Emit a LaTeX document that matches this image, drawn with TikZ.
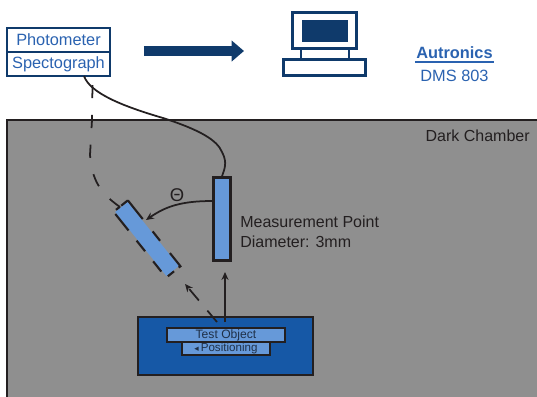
\documentclass[tikz,border=0pt]{standalone}
\usepackage{fontspec}
\setmainfont{Liberation Sans}
\newfontfamily\symbolfont{DejaVu Sans}
\usetikzlibrary{arrows.meta, positioning}
\definecolor{navyblue}{HTML}{0F3A6B}
\definecolor{labelblue}{HTML}{2A62B0}
\definecolor{lightblue}{HTML}{6699D9}
\definecolor{stageblue}{HTML}{1658A6}
\definecolor{chambergray}{HTML}{8F8F8F}
\definecolor{inkdark}{HTML}{231F20}
\begin{document}
\begin{tikzpicture}[
    x=0.2mm, y=-0.2mm,
    devicebox/.style={rectangle, minimum width=2.06cm, minimum height=0.48cm, inner sep=0pt, draw=navyblue, line width=1.2pt, text=labelblue, font=\fontsize{9.3}{11}\selectfont},
    screenpart/.style={rectangle, inner sep=0pt, draw=navyblue, line width=1.2pt, fill=white},
    stagebox/.style={rectangle, inner sep=0pt, draw=inkdark, line width=1pt, fill=lightblue, text=inkdark!70!stageblue},
    sensor/.style={rectangle, inner sep=0pt, draw=inkdark, line width=1.3pt, fill=lightblue},
    caption/.style={inner sep=0pt, text=inkdark, font=\fontsize{9.1}{11}\selectfont},
    beam/.style={draw=inkdark, line width=1pt},
    tip/.style={-{Stealth[length=4.5pt,width=4pt]}}
]
\useasboundingbox (0,0) rectangle (537,397);

% Nodes
\node (photometer) [devicebox] at (58.5,40) {Photometer};
\node (spectograph) [devicebox] at (58.5,64) {Spectograph};

\node (neck) [screenpart, minimum width=0.96cm, minimum height=0.2cm] at (325,54) {};
\node (monitor) [screenpart, minimum width=1.28cm, minimum height=0.72cm] at (324.5,30.5) {};
\node (screen) [rectangle, inner sep=0pt, fill=navyblue, minimum width=0.92cm, minimum height=0.44cm] at (325,31) {};
\node (keyboard) [screenpart, minimum width=1.64cm, minimum height=0.32cm] at (324.5,67.5) {};

\node (autronics) [inner sep=0pt, text=labelblue, font=\fontsize{9.3}{11}\selectfont\bfseries] at (454.5,53) {Autronics};
\node (dms) [inner sep=0pt, text=labelblue, font=\fontsize{9.3}{11}\selectfont] at (454.5,76) {DMS 803};

\node (chamber) [rectangle, anchor=north west, inner sep=0pt, fill=chambergray, minimum width=10.8cm, minimum height=5.6cm] at (7,120) {};
\node (darklabel) [caption, anchor=east] at (530,136) {Dark Chamber};

\node (object) [rectangle, inner sep=0pt, draw=inkdark, line width=1.2pt, fill=stageblue, minimum width=3.5cm, minimum height=1.16cm] at (225.5,346) {};
\node (test) [stagebox, minimum width=2.36cm, minimum height=0.28cm, font=\fontsize{6.9}{8}\selectfont] at (226,335) {\raisebox{-1.2pt}{Test Object}};
\node (positioning) [stagebox, minimum width=1.76cm, minimum height=0.26cm, font=\fontsize{6.6}{8}\selectfont] at (226,348.5) {{\symbolfont\fontsize{5}{6}\selectfont ◂}\,Positioning};

\node (detector) [sensor, minimum width=0.34cm, minimum height=1.66cm] at (222,219) {};
\node (tilted) [sensor, draw=none, minimum width=1.64cm, minimum height=0.32cm, rotate=-51.4] at (147,239) {};
\draw [inkdark, line width=1.2pt, dash pattern=on 13.6pt off 9pt on 6.8pt off 9pt on 10.8pt off 3.4pt on 4.5pt off 5.7pt on 7.4pt off 7.4pt on 7.7pt off 7.4pt on 12pt off 3.4pt on 2.8pt off 1pt] (tilted.north west) -- (tilted.north east) -- (tilted.south east) -- (tilted.south west) -- cycle;

\node (point) [caption, anchor=north west, align=left, font=\fontsize{9.1}{11.3}\selectfont] at (240,215.5) {Measurement Point\\Diameter: 3mm};
\node (theta) [inner sep=0pt, text=inkdark, font=\fontsize{10.5}{12}\selectfont] at (177,195) {Θ};

% Underline
\coordinate (ruleleft) at (415,62);
\coordinate (ruleright) at (494,62);
\draw [labelblue, line width=1.1pt] (ruleleft) -- (ruleright);

% Chamber edge
\draw [inkdark, line width=1.1pt] (chamber.south west) -- (chamber.north west) -- (chamber.north east);

% Data arrow
\coordinate (datastart) at (144,51);
\coordinate (dataend) at (244,51);
\draw [navyblue, line width=5.7pt, -{Triangle[length=7pt,width=11.5pt]}] (datastart) -- (dataend);

% Fibres
\coordinate (fibreport) at (84,76);
\draw [beam] (fibreport) .. controls (90,93) and (122,106) .. (163,118)
    .. controls (200,130) and (217,140) .. (222,152)
    .. controls (228,163) and (224,170) .. (detector.north);
\draw [beam, dash pattern=on 7.5pt off 9.5pt] (92.5,85) -- (92,120) -- (90,155)
    .. controls (92,180) and (100,193) .. (120,207);

% Angle and beams
\coordinate (arcstart) at (213,201);
\draw [beam, tip] (detector.west |- arcstart) .. controls (180,201) and (165,207) .. (146,220);
\coordinate (objecttop) at (225,322);
\coordinate (beamtop) at (225,272);
\draw [beam, tip] (objecttop) -- (beamtop);
\coordinate (reflectstart) at (217,322);
\coordinate (reflectend) at (185,284);
\draw [beam, tip, dash pattern=on 8.5pt off 7.5pt] (reflectstart) -- (reflectend);

\end{tikzpicture}
\end{document}
